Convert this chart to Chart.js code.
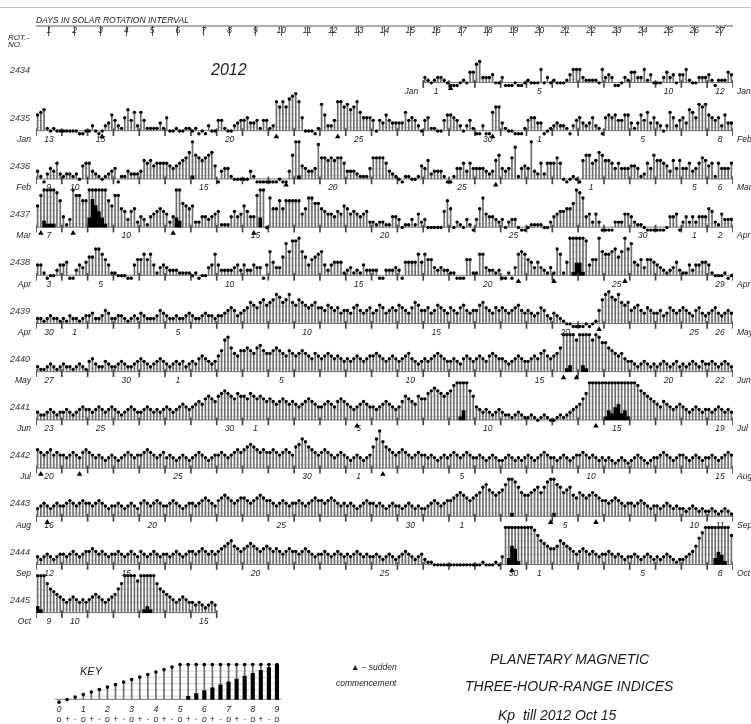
<!DOCTYPE html>
<html>
<head>
<meta charset="utf-8">
<script src="https://cdn.jsdelivr.net/npm/chart.js@4.4.1/dist/chart.umd.min.js"></script>
<style>
html, body { margin: 0; padding: 0; background: #fff; }
#wrap { position: relative; width: 751px; height: 724px; overflow: hidden;
        font-family: "Liberation Sans", Arial, sans-serif; font-style: italic; color: #1a1a1a; }
#rows { position: absolute; left: 0; top: 0; }
#key { position: absolute; left: 0; top: 640px; }
.t { position: absolute; white-space: nowrap; line-height: 1; }
.rule { position: absolute; left: 0; top: 7px; width: 751px; border-top: 1px solid #c4c4c4; }
</style>
</head>
<body>
<div id="wrap">
  <div class="rule"></div>
  <canvas id="rows" width="751" height="724"></canvas>
  <canvas id="key" width="300" height="84"></canvas>
  <div class="t" style="left:8px;top:34px;font-size:8px">ROT.-</div>
  <div class="t" style="left:8px;top:41px;font-size:8px">NO.</div>
  <div class="t" style="left:211px;top:62px;font-size:16px">2012</div>
  <div class="t" style="left:80px;top:666px;font-size:11px">KEY</div>
  <div class="t" style="left:351px;top:663px;font-size:8.5px">&#9650; &#8211; sudden</div>
  <div class="t" style="left:336px;top:679px;font-size:8.5px">commencement</div>
  <div class="t" style="left:490px;top:652px;font-size:14px">PLANETARY MAGNETIC</div>
  <div class="t" style="left:465px;top:679px;font-size:14px">THREE-HOUR-RANGE INDICES</div>
  <div class="t" style="left:498px;top:708px;font-size:14px">Kp&nbsp; till 2012 Oct 15</div>
</div>
<script>
// Kp in thirds (0 = 0o, 1 = 0+, 2 = 1-, 3 = 1o ... 27 = 9o), 8 three-hour values per day
const rotations = [2434, 2435, 2436, 2437, 2438, 2439, 2440, 2441, 2442, 2443, 2444, 2445];
const rotStart = ['2011-12-17', '2012-01-13', '2012-02-09', '2012-03-07', '2012-04-03', '2012-04-30',
                  '2012-05-27', '2012-06-23', '2012-07-20', '2012-08-16', '2012-09-12', '2012-10-09'];
const firstDay = [16, 1, 1, 1, 1, 1, 1, 1, 1, 1, 1, 1];
const dayNumbers = [1, 2, 3, 4, 5, 6, 7, 8, 9, 10, 11, 12, 13, 14, 15, 16, 17, 18, 19, 20, 21, 22, 23, 24, 25, 26, 27];
const dateMarks = [1, 5, 10, 15, 20, 25, 30];
const monthNames = ['Jan', 'Feb', 'Mar', 'Apr', 'May', 'Jun', 'Jul', 'Aug', 'Sep', 'Oct', 'Nov', 'Dec'];

const kp2434 = [
  3,2,1,2,3,3,2,1, 0,0,0,1,2,1,5,5, 8,9,3,3,3,4,1,1, 3,0,0,0,1,0,0,1,
  2,1,1,1,6,1,3,1, 2,1,1,1,2,4,6,6, 6,3,2,2,2,2,1,6, 3,4,3,0,0,1,3,2,
  5,5,3,3,6,2,4,1, 1,1,3,5,3,4,1,4, 4,6,2,1,1,3,3,3, 4,2,0,2,2,2,5,4];
const kp2435 = [
  7,8,9,2,1,2,1,1, 1,1,1,1,1,0,0,1, 1,3,1,0,1,3,4,7, 5,3,2,6,9,5,8,3,
  8,5,2,2,2,2,4,2, 6,1,1,2,1,1,2,2, 1,2,0,1,0,3,1,1, 5,5,2,1,1,3,4,5,
  5,6,4,4,5,2,5,5, 2,3,12,10,12,10,13,14, 15,12,6,1,1,1,0,2, 11,7,3,3,5,12,12,10,
  11,9,10,12,8,6,6,6, 5,1,5,4,7,5,4,4, 4,4,8,5,6,5,3,1, 5,6,2,2,1,1,5,7,
  7,6,5,3,1,3,5,2, 0,0,3,0,0,8,10,10, 4,2,1,1,0,0,0,2, 5,6,6,4,4,0,1,2,
  3,4,3,3,2,0,3,5, 6,4,3,4,6,3,2,0, 6,7,6,7,5,5,7,7, 4,2,4,7,5,8,4,6,
  4,3,1,3,8,6,3,5, 6,4,9,8,6,11,10,11, 7,6,5,6,3,7,4,4];
const kp2436 = [
  4,2,0,3,5,4,7,3, 2,3,3,2,3,1,6,7, 7,4,3,2,1,2,3,4, 5,0,2,2,4,3,3,3,
  4,8,7,8,6,7,7,7, 7,6,5,6,7,8,9,11, 16,10,9,8,9,10,11,6, 0,4,5,5,2,1,1,1,
  1,1,4,2,0,0,0,0, 0,0,0,1,0,0,4,10, 15,16,6,5,4,4,5,14, 9,9,8,9,8,9,9,7,
  4,4,4,3,2,2,2,5, 9,9,9,9,7,4,3,2, 1,0,2,2,1,1,2,6, 5,8,3,4,4,4,2,0,
  0,2,5,5,7,4,7,5, 5,5,5,4,3,4,8,10, 5,4,5,9,13,2,5,6, 5,15,4,3,7,3,7,7,
  7,9,7,1,0,1,2,1, 0,8,10,10,7,8,11,10, 8,8,7,5,7,5,5,5, 6,6,5,2,3,7,5,10,
  8,8,7,6,4,8,5,8, 5,5,7,4,5,7,9,8, 6,7,2,7,5,5,5,7];
const kp2437 = [
  9,13,17,16,16,16,14,11, 5,2,4,15,13,13,11,11, 18,24,22,20,18,16,11,9, 13,13,8,7,4,7,8,3,
  5,4,2,5,6,7,8,7, 6,3,5,18,17,10,9,8, 9,3,3,5,5,4,5,6, 7,2,2,2,5,7,5,6,
  9,7,5,5,13,18,15,1, 12,8,8,11,8,11,11,11, 11,11,6,8,12,12,10,10, 8,7,6,6,5,7,6,9,
  8,6,7,6,5,6,7,3, 3,2,3,3,2,2,5,5, 4,1,2,2,4,2,6,3, 4,1,1,1,1,1,7,11,
  8,1,3,2,1,4,2,0, 4,8,12,6,5,5,4,3, 4,1,3,4,4,1,0,0, 1,2,2,2,2,1,1,3,
  5,6,7,7,8,8,10,15, 14,12,5,6,3,6,3,0, 0,0,0,3,3,3,6,6, 5,3,2,2,1,0,0,0,
  0,0,0,1,5,5,6,0, 3,5,3,5,3,5,5,5, 8,7,3,2,6,4,4,4];
const kp2438 = [
  5,5,2,0,1,1,3,5, 5,6,0,0,3,5,4,6, 8,8,11,11,9,7,5,2, 2,1,1,1,0,0,5,7,
  7,9,7,9,5,2,4,5, 4,3,3,3,2,2,2,2, 1,2,0,1,1,4,5,9, 5,3,3,3,3,4,5,3,
  5,3,3,5,4,4,0,5, 10,6,4,4,8,13,10,14, 14,15,10,8,5,7,8,9, 10,5,3,5,6,6,6,2,
  3,4,2,3,2,5,3,3, 3,3,0,0,3,3,3,4, 3,0,6,6,6,6,9,6, 9,7,7,4,3,4,3,3,
  2,2,0,0,0,7,7,2, 2,9,9,4,3,3,2,3, 0,0,2,0,4,9,10,9, 7,6,4,6,4,3,2,4,
  2,11,9,2,6,15,16,19, 19,16,14,5,7,7,15,10, 9,9,10,11,8,10,15,11, 13,6,5,7,4,7,7,6,
  5,4,3,2,3,4,6,3, 2,2,5,3,5,5,6,6, 5,2,1,1,1,2,0,1];
const kp2439 = [
  3,3,2,3,4,3,3,2, 3,2,4,3,3,2,3,4, 4,5,3,3,4,6,5,3, 3,4,4,3,2,3,4,3,
  5,4,3,3,3,4,6,5, 4,3,3,4,3,3,4,5, 4,3,3,4,5,4,4,3, 4,4,5,6,7,6,4,5,
  6,7,9,8,7,9,10,8, 9,10,12,11,9,10,12,9, 8,10,9,8,7,8,9,7, 7,6,8,7,6,7,5,6,
  6,5,7,8,6,5,6,7, 5,6,8,7,5,6,7,6, 8,7,6,5,7,9,8,6, 6,7,5,6,8,7,6,5,
  7,6,5,7,8,6,5,6, 6,8,9,7,6,5,7,6, 7,6,5,6,7,8,6,5, 6,5,4,5,7,6,4,3,
  5,4,3,2,1,1,0,0, 0,0,1,0,1,2,6,10, 12,13,11,10,12,9,8,9, 6,7,8,6,5,7,6,5,
  5,6,4,5,7,6,5,6, 7,6,5,4,6,7,5,4, 5,6,7,5,4,5,6,5];
const kp2440 = [
  3,2,2,3,4,3,2,3, 4,3,3,2,3,4,3,2, 5,6,4,3,3,5,4,3, 3,4,5,4,3,3,4,5,
  6,5,4,3,4,5,6,5, 4,3,4,5,4,5,3,4, 5,4,6,7,6,5,4,5, 7,9,13,14,10,8,7,9,
  9,10,9,8,10,11,9,8, 8,9,10,9,8,7,9,8, 7,8,9,8,7,6,8,7, 6,7,8,7,6,7,6,5,
  6,5,6,7,6,5,6,7, 7,8,7,6,5,6,7,6, 5,6,7,8,6,5,4,5, 6,5,6,7,8,7,6,5,
  5,6,5,4,6,7,6,5, 6,7,6,5,7,8,7,6, 6,5,4,5,6,7,6,5, 5,6,7,6,8,9,7,6,
  7,8,10,15,16,17,15,13, 15,17,16,15,13,15,14,12, 12,10,9,8,7,8,6,5, 5,4,3,4,5,4,3,4,
  3,4,5,4,3,4,5,3, 4,3,4,5,4,3,5,4, 4,5,4,3,4,5,4,3];
const kp2441 = [
  4,3,3,4,5,4,3,4, 4,5,4,3,4,5,6,5, 5,4,5,6,5,4,5,6, 5,4,3,4,5,6,5,4,
  4,5,6,5,4,5,4,5, 6,5,4,5,6,7,6,5, 6,7,8,7,9,10,9,8, 10,11,12,11,10,9,11,10,
  10,9,11,10,9,10,9,8, 9,8,7,8,9,8,7,8, 7,6,7,8,9,8,7,6, 6,7,8,7,6,8,9,8,
  7,6,5,6,7,8,7,6, 6,5,6,7,8,7,6,5, 6,8,10,9,8,7,10,9, 9,11,12,13,12,11,10,11,
  12,14,15,16,18,15,12,10, 6,5,4,5,4,3,4,5, 4,3,3,2,3,4,3,2, 2,3,2,1,2,3,2,1,
  1,2,3,2,3,4,5,6, 7,9,11,15,15,15,15,15, 16,18,17,19,20,17,18,16, 15,15,14,12,11,10,9,8,
  7,6,8,7,6,5,6,7, 6,5,4,5,6,5,4,5, 5,4,5,6,5,4,5,4];
const kp2442 = [
  8,7,6,7,8,6,7,6, 6,5,6,7,6,5,7,8, 7,6,5,6,5,4,5,6, 5,4,5,6,7,6,5,6,
  6,7,8,7,6,5,6,7, 5,6,5,4,5,6,5,4, 5,6,7,6,5,4,5,6, 6,7,6,5,6,7,8,7,
  8,9,10,9,8,7,8,7, 7,8,7,6,7,8,7,6, 9,10,12,11,9,8,7,6, 7,8,7,6,5,6,7,6,
  5,4,5,6,5,4,5,6, 9,12,15,11,9,8,7,6, 7,8,7,6,5,6,7,6, 6,5,6,5,4,5,6,5,
  6,7,6,5,6,7,6,5, 5,6,5,4,5,6,5,4, 4,5,6,5,4,5,4,5, 6,5,4,5,6,7,6,5,
  5,4,5,6,5,4,5,6, 6,7,6,5,6,5,4,5, 4,5,4,3,4,5,4,3, 4,5,6,5,4,3,4,5,
  5,6,7,6,5,4,5,6, 6,5,4,5,6,5,4,5, 5,6,5,4,5,6,7,6];
const kp2443 = [
  4,5,6,5,4,5,6,5, 5,6,7,6,5,6,7,6, 6,5,6,7,6,5,4,5, 5,6,5,4,5,6,5,4,
  6,7,6,5,6,7,6,5, 5,6,7,6,5,4,5,6, 6,5,6,7,8,7,6,5, 7,8,9,8,7,6,7,8,
  8,7,6,7,8,9,8,7, 7,6,5,6,7,6,5,6, 6,7,6,5,6,7,8,7, 7,6,7,8,7,6,5,6,
  5,6,5,4,5,6,7,6, 6,5,6,5,4,5,6,5, 5,4,5,6,5,4,5,4, 4,5,6,7,6,5,6,7,
  7,8,9,10,9,8,7,8, 9,10,12,13,11,10,9,10, 11,13,15,16,14,12,10,9, 9,10,11,12,10,12,14,15,
  16,13,12,10,11,12,9,8, 10,9,8,9,10,9,8,7, 7,6,7,8,7,6,5,6, 6,5,6,7,6,5,4,5,
  5,4,5,6,5,4,5,4, 4,3,4,5,4,3,4,3, 3,4,3,2,3,4,3,2];
const kp2444 = [
  4,3,4,5,4,3,4,5, 5,4,5,6,5,4,5,6, 6,7,6,5,6,5,4,5, 5,6,5,4,5,6,5,4,
  6,5,4,5,6,5,4,5, 5,4,5,6,5,4,5,6, 6,5,6,7,6,5,6,5, 6,7,8,9,10,8,7,6,
  7,8,9,8,7,6,7,8, 7,6,7,6,5,6,7,6, 6,5,6,7,6,5,4,5, 5,6,5,4,5,6,5,4,
  5,4,5,6,5,4,5,4, 4,5,4,3,4,5,4,3, 4,5,6,5,4,3,4,5, 3,2,2,1,1,1,1,1,
  1,1,1,1,1,1,1,1, 1,1,2,1,1,1,2,1, 4,15,17,21,20,16,15,15, 15,15,14,12,10,9,8,7,
  7,8,10,9,8,7,6,5, 6,7,6,5,6,5,4,5, 5,6,5,4,5,4,3,4, 4,5,4,3,4,5,4,3,
  4,3,4,5,4,3,2,3, 3,4,5,6,8,11,13,15, 15,15,17,19,18,16,15,12];
const kp2445 = [
  17,16,15,12,10,9,8,7, 6,5,6,7,6,5,6,5, 6,7,8,7,6,5,6,7, 8,10,12,15,15,15,15,13,
  15,16,17,16,15,12,10,9, 8,7,6,5,6,7,6,5, 5,4,5,4,3,4,5,4];
const kpRows = [kp2434, kp2435, kp2436, kp2437, kp2438, kp2439, kp2440, kp2441, kp2442, kp2443, kp2444, kp2445];

// sudden commencements: rotation and three-hour interval within the rotation
const scRotation = [2434, 2435, 2435, 2435, 2435, 2436, 2436, 2437, 2437, 2437, 2437, 2438, 2438, 2438,
                    2439, 2440, 2440, 2441, 2441, 2442, 2442, 2442, 2443, 2443, 2443, 2444];
const scInterval = [128, 20, 74, 93, 141, 77, 142, 1, 11, 42, 67, 149, 160, 182,
                    174, 163, 167, 99, 173, 1, 13, 107, 3, 159, 173, 147];

// key: every Kp step from 0o to 9o
const keyThirds = [0, 1, 2, 3, 4, 5, 6, 7, 8, 9, 10, 11, 12, 13, 14, 15, 16, 17, 18, 19, 20, 21, 22, 23, 24, 25, 26, 27];
const keySigns = ['o', '+', '-'];

const FONT = '"Liberation Sans", Arial, sans-serif';
Chart.defaults.font.family = FONT;
Chart.defaults.color = '#1f1f1f';

// glyph geometry (px): notes rise up to 5o, above that a black bar grows from the base
const ROW_H = 48.2, BASE0 = 82.5;
const NOTE_CAP = 15, PX_THIRD = 2.67, NOTE_DROP = 3, BAR_PX = 37 / 12;
const STAFF = [3.4, 10.1, 16.8, 23.5, 30.2, 37];
const noteH = t => Math.min(t, NOTE_CAP) * PX_THIRD - NOTE_DROP;
const barH = t => t > NOTE_CAP ? (t - NOTE_CAP) * BAR_PX : 0;
const rowBase = r => BASE0 + r * ROW_H;

function addGlyphs(values, firstX, lastX, base, sets) {
  const xs = values.map((t, k) => firstX + k + 0.5);
  sets.base.push({x: firstX, y: base}, {x: lastX, y: base}, {x: lastX, y: null});
  values.forEach((t, k) => {
    const h = noteH(t);
    sets.dots.push({x: xs[k], y: base - h});
    if (h > 0) sets.stems.push({x: xs[k], y: [base, base - h]});
    if (t > NOTE_CAP) sets.bars.push({x: xs[k], y: [base, base - barH(t)]});
  });
  STAFF.forEach(L => {
    let run = [];
    const flush = () => {
      if (run.length > 1) sets.staff.push(...run, {x: run[run.length - 1].x, y: null});
      run = [];
    };
    values.forEach((t, k) => {
      if (noteH(t) >= L - 0.2) run.push({x: xs[k], y: base - L});
      else flush();
    });
    flush();
  });
}

function glyphDatasets(sets, barW, dotR) {
  return [
    {type: 'line', data: sets.staff, borderColor: '#a8a8a8', borderWidth: 0.5, pointRadius: 0, spanGaps: false, order: 7},
    {type: 'line', data: sets.base, borderColor: '#555', borderWidth: 0.8, pointRadius: 0, spanGaps: false, order: 6},
    {type: 'bar', data: sets.stems, backgroundColor: '#6e6e6e', barThickness: 1, grouped: false, order: 5},
    {type: 'bar', data: sets.bars, backgroundColor: '#000', barThickness: barW, grouped: false, order: 4},
    {type: 'scatter', data: sets.dots, backgroundColor: '#000', borderWidth: 0, pointRadius: dotR, order: 2}
  ];
}

// ---- rotation rows ----
const rowSets = {base: [], staff: [], stems: [], bars: [], dots: []};
const dayTicks = [], scMarks = [];
kpRows.forEach((vals, r) => {
  const base = rowBase(r), x0 = (firstDay[r] - 1) * 8;
  addGlyphs(vals, x0, x0 + vals.length, base, rowSets);
  for (let d = x0; d <= x0 + vals.length; d += 8) dayTicks.push({x: d, y: [base - 2, base + 5]});
});
scRotation.forEach((rot, i) => {
  scMarks.push({x: scInterval[i] + 0.5, y: rowBase(rotations.indexOf(rot)) + 6});
});

const rowDatasets = glyphDatasets(rowSets, 3, 1.7).concat([
  {type: 'bar', data: dayTicks, backgroundColor: '#444', barThickness: 1, grouped: false, order: 3},
  {type: 'scatter', data: scMarks, pointStyle: 'triangle', pointRadius: 3.2, backgroundColor: '#000', borderWidth: 0, order: 1}
]);

const dateLabels = {
  id: 'dateLabels',
  afterDatasetsDraw(chart) {
    const {ctx, scales: {x, y}} = chart;
    ctx.save();
    ctx.strokeStyle = '#333';
    ctx.lineWidth = 0.8;
    ctx.beginPath();
    ctx.moveTo(x.left, chart.chartArea.top - 10);
    ctx.lineTo(x.right, chart.chartArea.top - 10);
    ctx.stroke();
    ctx.font = 'italic 8.5px ' + FONT;
    ctx.fillStyle = '#222';
    ctx.textBaseline = 'middle';
    rotations.forEach((rot, r) => {
      const start = Date.parse(rotStart[r] + 'T00:00:00Z');
      const d0 = firstDay[r] - 1, d1 = d0 + kpRows[r].length / 8 - 1;
      const ly = y.getPixelForValue(rowBase(r) + 9);
      const dateOf = d => new Date(start + d * 86400000);
      ctx.textAlign = 'center';
      for (let d = d0; d <= d1; d++) {
        const dn = dateOf(d).getUTCDate();
        if (d === d0 || d === d1 || dateMarks.includes(dn)) {
          ctx.fillText(String(dn), x.getPixelForValue(d * 8 + 4), ly);
        }
      }
      ctx.textAlign = 'right';
      ctx.fillText(monthNames[dateOf(d0).getUTCMonth()], x.getPixelForValue(d0 * 8) - 5, ly);
      if (d1 === 26) {
        ctx.textAlign = 'left';
        ctx.fillText(monthNames[dateOf(d1).getUTCMonth()], x.getPixelForValue(216) + 4, ly);
      }
    });
    ctx.restore();
  }
};

new Chart(document.getElementById('rows'), {
  type: 'scatter',
  data: {datasets: rowDatasets},
  options: {
    responsive: false,
    animation: false,
    events: [],
    layout: {padding: {left: 0, right: 18, top: 0, bottom: 84}},
    plugins: {legend: {display: false}, tooltip: {enabled: false}},
    scales: {
      x: {
        type: 'linear', position: 'top', min: 0, max: 216, offset: false,
        afterBuildTicks: s => { s.ticks = dayNumbers.map(d => ({value: (d - 1) * 8})).concat([{value: 216}]); },
        afterFit: s => { s.height = 36; },
        grid: {drawOnChartArea: false, drawTicks: true, tickLength: 10, color: '#333', lineWidth: 0.8},
        border: {display: false},
        ticks: {
          autoSkip: false, maxRotation: 0, padding: -10, labelOffset: 12.9,
          font: {size: 8.5, style: 'italic'}, color: '#222',
          callback: v => v < 216 ? String(dayNumbers[v / 8]) : ''
        },
        title: {
          display: true, text: 'DAYS IN SOLAR ROTATION INTERVAL', align: 'start',
          padding: {top: 16, bottom: 0}, font: {size: 8.5, style: 'italic'}, color: '#222'
        }
      },
      y: {
        type: 'linear', reverse: true, min: 36, max: 640,
        afterFit: s => { s.width = 36; },
        afterBuildTicks: s => { s.ticks = rotations.map((n, r) => ({value: rowBase(r) - 12.5})); },
        grid: {display: false, drawTicks: false},
        border: {display: false},
        ticks: {autoSkip: false, padding: 6, font: {size: 9, style: 'italic'}, color: '#333',
                callback: (v, i) => String(rotations[i])}
      }
    }
  },
  plugins: [dateLabels]
});

// ---- key ----
const KEY_BASE = 59;
const keySets = {base: [], staff: [], stems: [], bars: [], dots: []};
addGlyphs(keyThirds, -0.5, 27.5, KEY_BASE, keySets);

new Chart(document.getElementById('key'), {
  type: 'scatter',
  data: {datasets: glyphDatasets(keySets, 3.5, 1.8)},
  options: {
    responsive: false,
    animation: false,
    events: [],
    layout: {padding: {left: 55, right: 19, top: 0, bottom: 0}},
    plugins: {legend: {display: false}, tooltip: {enabled: false}},
    scales: {
      x: {
        type: 'linear', min: -0.5, max: 27.5, offset: false,
        afterBuildTicks: s => { s.ticks = keyThirds.map(v => ({value: v})); },
        afterFit: s => { s.height = 20; },
        grid: {display: false, drawTicks: false},
        border: {display: false},
        ticks: {
          autoSkip: false, maxRotation: 0, padding: 1, color: '#222',
          font: {size: 8.5, style: 'italic', lineHeight: 1.15},
          callback: v => [v % 3 === 0 ? String(v / 3) : '', keySigns[v % 3]]
        }
      },
      y: {display: false, reverse: true, min: 0, max: 64}
    }
  }
});
</script>
</body>
</html>
